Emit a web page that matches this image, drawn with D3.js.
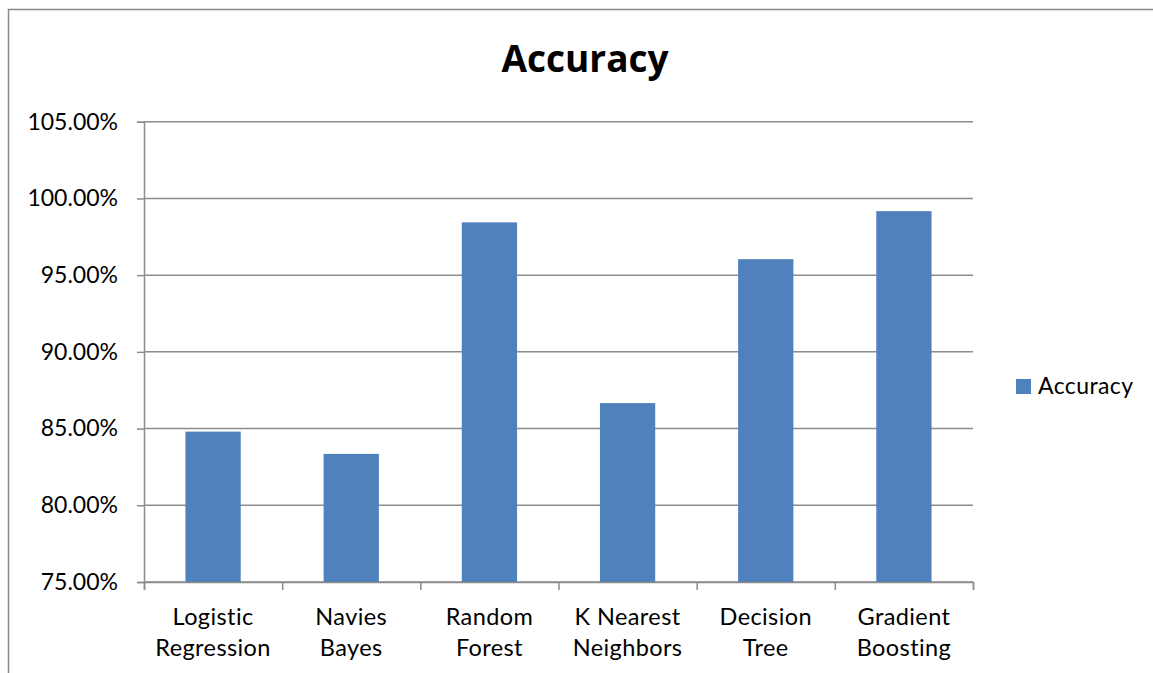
<!DOCTYPE html>
<html>
<head>
<meta charset="utf-8">
<script src="https://cdn.jsdelivr.net/npm/d3@7"></script>
<style>
  body { margin: 0; background: #fff; }
  svg { display: block; font-family: Lato, "Open Sans", sans-serif; }
</style>
</head>
<body>
<script>
// ==========================================
// 1. DATA
// ==========================================
const models = ["Logistic\nRegression", "Navies\nBayes", "Random\nForest",
                "K Nearest\nNeighbors", "Decision\nTree", "Gradient\nBoosting"];
const accuracy = [84.80, 83.35, 98.44, 86.66, 96.04, 99.17]; // percent
const yTicks = [75, 80, 85, 90, 95, 100, 105];
const seriesName = "Accuracy";

// ==========================================
// 2. LAYOUT
// ==========================================
const W = 1153, H = 673;
const plot = {left: 144, right: 973, top: 121.7, bottom: 582};
const barColor = "#4f81bd";
const gridColor = "#8c8c8c";

const svg = d3.select("body").append("svg")
    .attr("width", W)
    .attr("height", H);

// chart border (only top and left are visible in the frame)
svg.append("rect")
    .attr("x", 8.5).attr("y", 9.5)
    .attr("width", W + 20).attr("height", H + 20)
    .attr("fill", "none")
    .attr("stroke", "#8a8a8a")
    .attr("stroke-width", 1.5);

// Scales
const x = d3.scaleBand()
    .domain(models)
    .range([plot.left, plot.right])
    .paddingInner(0.6)
    .paddingOuter(0.3);

const xEdges = d3.scaleLinear()
    .domain([0, models.length])
    .range([plot.left, plot.right]);

const y = d3.scaleLinear()
    .domain([75, 105])
    .range([plot.bottom, plot.top]);

// Gridlines
svg.append("g")
    .selectAll("line")
    .data(yTicks)
    .join("line")
    .attr("x1", plot.left).attr("x2", plot.right)
    .attr("y1", d => y(d)).attr("y2", d => y(d))
    .attr("stroke", gridColor)
    .attr("stroke-width", 1.5);

// Bars
svg.append("g")
    .selectAll("rect")
    .data(models)
    .join("rect")
    .attr("x", d => x(d))
    .attr("width", x.bandwidth())
    .attr("y", (d, i) => y(accuracy[i]))
    .attr("height", (d, i) => y(75) - y(accuracy[i]))
    .attr("fill", barColor);

// Y axis
const yAxis = d3.axisLeft(y)
    .tickValues(yTicks)
    .tickSize(7)
    .tickPadding(19)
    .tickFormat(d => d.toFixed(2) + "%");

const yAxisG = svg.append("g")
    .attr("transform", `translate(${plot.left},0)`)
    .call(yAxis);
yAxisG.select(".domain").attr("stroke", gridColor).attr("stroke-width", 1.5);
yAxisG.selectAll(".tick line").attr("stroke", gridColor).attr("stroke-width", 1.5);
yAxisG.selectAll(".tick text")
    .attr("font-family", "Lato, sans-serif")
    .attr("font-size", 23)
    .attr("fill", "#000");

// X axis (ticks at category edges)
const xAxis = d3.axisBottom(xEdges)
    .tickValues(d3.range(models.length + 1))
    .tickSize(8)
    .tickFormat("");

const xAxisG = svg.append("g")
    .attr("transform", `translate(0,${plot.bottom})`)
    .call(xAxis);
xAxisG.select(".domain").attr("stroke", gridColor).attr("stroke-width", 1.5);
xAxisG.selectAll(".tick line").attr("stroke", gridColor).attr("stroke-width", 1.5);

// Category labels on two lines
const labels = svg.append("g")
    .selectAll("text")
    .data(models)
    .join("text")
    .attr("text-anchor", "middle")
    .attr("font-size", 23.5)
    .attr("letter-spacing", 0.4)
    .attr("fill", "#000");

labels.selectAll("tspan")
    .data(d => d.split("\n").map(line => ({line, cx: x(d) + x.bandwidth() / 2})))
    .join("tspan")
    .attr("x", d => d.cx)
    .attr("y", (d, i) => 625 + i * 31)
    .text(d => d.line);

// Title
svg.append("text")
    .attr("x", 585)
    .attr("y", 71.5)
    .attr("text-anchor", "middle")
    .attr("font-family", "'Open Sans', Lato, sans-serif")
    .attr("font-size", 37)
    .attr("font-weight", "bold")
    .attr("fill", "#000")
    .text(seriesName);

// Legend
const legend = svg.append("g").attr("transform", "translate(1016,379)");
legend.append("rect")
    .attr("width", 15).attr("height", 15)
    .attr("fill", barColor);
legend.append("text")
    .attr("x", 22)
    .attr("y", 15)
    .attr("font-size", 23)
    .attr("letter-spacing", 0.4)
    .attr("fill", "#000")
    .text(seriesName);
</script>
</body>
</html>
